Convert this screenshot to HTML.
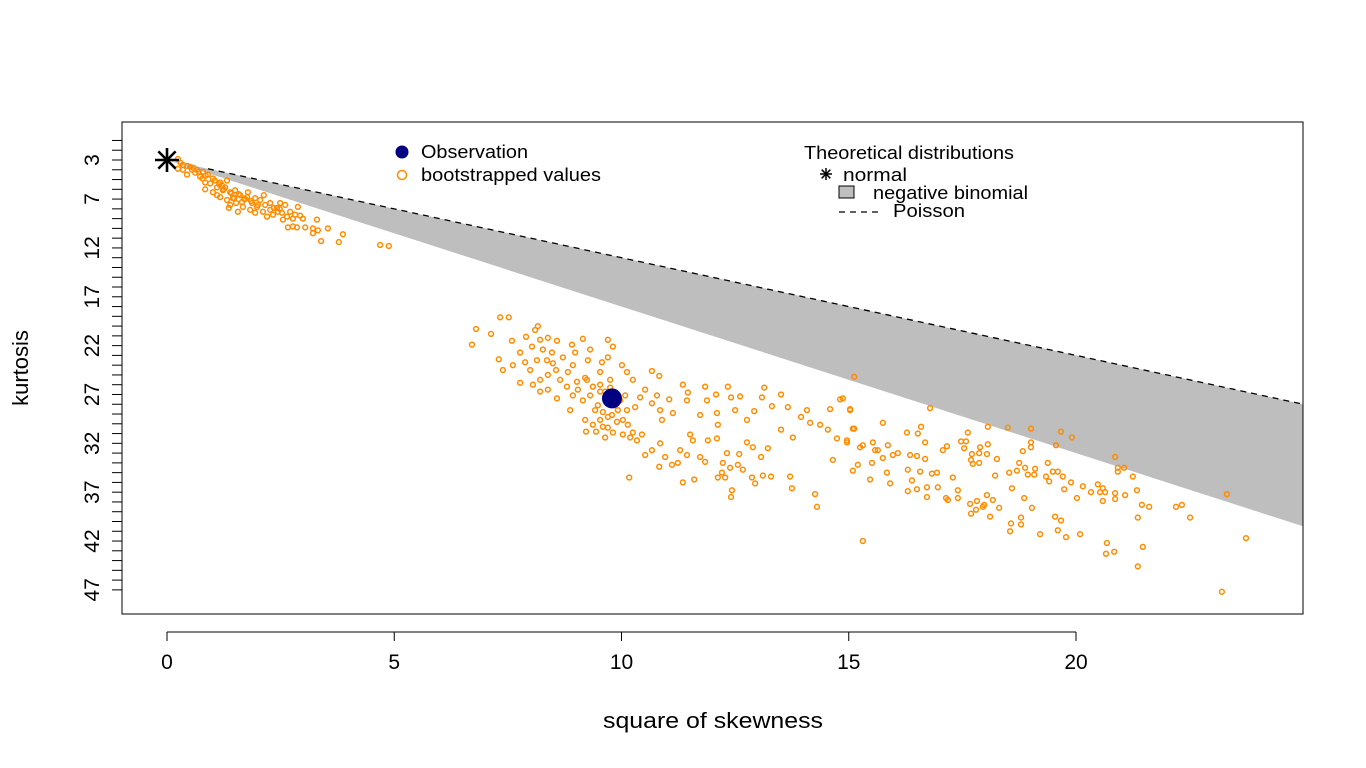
<!DOCTYPE html>
<html><head><meta charset="utf-8"><style>
html,body{margin:0;padding:0;background:#fff;}
svg{display:block;font-family:"Liberation Sans",Arial,sans-serif;}
</style></head><body>
<svg id="chart" width="1366" height="768" viewBox="0 0 1366 768" xmlns="http://www.w3.org/2000/svg"></svg>
<script>
const xTicks=[0,5,10,15,20];
const yLabels=[3,7,12,17,22,27,32,37,42,47];
const obsSkew2=[9.79];
const obsKurt=[27.4];
const bootSkew2=[0.24,0.35,0.51,0.66,0.79,0.90,0.73,1.01,1.17,1.32,1.10,0.84,1.01,1.23,1.39,1.17,1.32,1.45,1.61,1.76,1.78,1.65,1.36,1.52,1.67,1.87,1.98,2.05,2.13,2.27,1.94,2.11,2.20,2.33,2.42,2.49,2.53,2.64,2.55,2.71,2.77,2.88,2.93,2.99,2.77,2.66,2.86,3.04,3.21,3.30,3.32,3.21,3.54,3.39,3.87,3.78,4.69,4.88,0.35,0.24,0.62,0.95,1.21,1.50,1.72,1.94,2.16,2.27,2.44,2.60,2.82,1.83,1.56,1.39,1.10,0.84,0.44,
7.33,7.52,6.80,7.13,6.71,8.16,8.10,7.90,7.59,7.77,7.30,7.39,7.61,7.77,8.03,8.21,8.38,8.58,8.91,9.15,9.70,9.81,9.70,8.14,8.36,8.49,8.71,8.93,9.26,9.57,10.01,10.12,10.25,10.67,10.83,8.05,8.21,8.38,8.58,8.80,9.02,9.24,9.37,9.53,8.93,9.15,8.87,9.20,9.37,9.59,9.81,9.64,9.22,10.03,10.12,10.30,10.41,10.52,10.67,10.85,10.78,11.05,10.89,11.13,11.35,11.46,11.44,11.73,11.84,11.88,12.08,12.10,12.12,12.34,12.41,12.50,12.61,12.76,12.92,13.09,13.14,13.31,13.51,13.66,13.95,14.08,13.51,13.77,14.15,14.37,14.59,14.81,15.03,15.12,14.54,14.74,14.96,15.12,15.31,15.58,10.25,10.34,10.45,10.52,10.67,10.85,10.96,11.11,11.29,11.24,11.44,11.51,11.57,11.73,11.84,11.90,12.10,12.23,12.32,12.39,12.56,12.67,12.21,12.28,12.12,12.43,12.41,12.87,12.94,13.11,13.29,13.71,13.75,14.26,14.30,13.07,13.22,12.89,12.76,12.59,14.65,15.09,15.20,15.47,10.17,11.35,11.60,10.83,10.03,10.19,9.70,9.53,
9.53,9.64,9.75,9.86,9.97,9.48,9.59,9.79,9.92,10.08,9.31,9.42,9.20,9.04,8.82,8.65,8.56,8.38,8.21,7.99,7.88,8.27,8.47,8.98,9.31,9.53,9.75,9.90,9.70,9.44,10.14,
14.87,15.03,16.79,15.75,15.09,14.96,15.25,15.53,15.64,15.86,15.97,16.08,16.28,16.52,16.59,16.68,16.35,16.50,16.68,16.30,16.57,16.83,16.94,16.39,15.84,15.91,15.51,15.75,16.30,16.50,16.72,16.72,16.96,17.14,17.18,17.29,17.40,17.40,17.07,17.16,17.47,17.58,17.54,17.62,17.71,17.89,17.87,18.04,18.06,17.69,17.73,17.87,18.26,18.06,18.50,19.01,19.67,19.91,19.01,19.01,18.83,19.56,18.75,18.88,18.70,18.53,18.94,19.10,19.08,19.38,19.34,19.41,19.49,19.60,19.71,19.74,19.89,20.15,20.02,20.33,20.48,20.53,20.59,20.59,20.64,20.86,20.86,21.08,20.86,20.92,20.92,21.06,21.25,21.34,21.45,21.61,22.20,22.33,22.51,23.32,23.74,21.36,21.47,21.36,20.68,20.66,20.84,20.09,19.78,19.60,19.54,19.67,19.21,18.79,18.79,18.57,18.55,19.03,18.86,18.59,18.22,18.11,18.04,18.17,18.31,17.98,17.82,17.67,17.69,17.80,17.95,15.31,23.21,
0.30,0.45,0.58,0.70,0.85,1.05,1.15,1.28,1.42,1.58,1.70,1.85,2.00,2.35,2.48,0.55,0.78,1.25,1.48];
const bootKurt=[2.9,3.5,3.7,4.0,4.2,4.5,4.7,4.9,5.3,5.1,5.8,6.0,6.3,6.1,6.3,6.8,7.1,6.9,6.6,6.8,6.3,7.3,7.9,7.4,7.8,7.4,7.8,7.1,6.6,7.4,8.4,8.3,8.8,8.6,7.9,7.4,8.4,8.8,9.1,8.3,9.0,7.8,8.7,9.0,9.8,9.9,9.9,9.9,10.0,9.1,10.2,10.5,10.0,11.3,10.6,11.4,11.7,11.8,4.0,3.9,4.3,5.4,5.6,6.1,7.0,6.9,7.6,8.1,8.3,7.6,8.6,8.1,8.3,7.6,6.6,5.3,4.5,
19.1,19.1,20.3,20.8,21.9,20.0,20.4,21.1,21.5,22.7,23.4,24.5,24.0,25.8,22.1,21.4,21.2,21.5,21.9,21.3,21.4,22.1,23.2,23.5,23.5,23.8,23.2,24.0,23.5,23.7,24.0,24.7,25.5,24.6,25.1,26.0,26.7,26.5,27.4,26.2,25.7,25.5,26.2,26.7,27.1,27.6,28.6,29.6,30.1,30.3,30.9,31.4,30.8,29.6,28.6,28.3,27.3,26.5,27.9,28.6,27.1,27.5,29.6,28.9,26.0,26.8,27.6,29.1,26.2,27.6,27.0,28.9,30.1,26.2,27.3,28.6,27.2,29.6,28.7,27.3,26.3,28.2,27.0,28.3,29.3,28.6,30.6,31.4,29.9,30.1,28.5,27.5,28.5,25.2,30.6,31.5,31.7,30.5,32.2,32.7,30.9,31.7,31.1,33.2,32.7,32.0,33.4,34.2,32.7,34.0,33.2,31.1,31.7,33.4,33.9,31.7,31.5,34.0,33.0,34.5,34.2,34.7,35.0,35.5,35.5,36.8,37.5,35.5,36.1,35.3,35.4,35.4,36.6,37.2,38.5,33.4,32.5,32.4,31.9,33.1,33.7,34.8,34.2,35.7,35.5,36.0,35.7,34.4,31.1,31.4,29.3,29.6,
26.0,26.7,26.3,28.1,27.6,28.1,28.8,29.1,28.6,27.1,27.1,28.6,25.3,26.5,24.7,25.5,24.5,25.0,25.5,24.5,23.7,22.4,22.7,22.7,22.4,24.7,25.5,29.8,30.4,30.8,30.1,
27.4,28.6,28.4,29.9,30.5,31.9,32.4,31.9,32.7,32.2,33.2,33.0,30.9,31.0,30.3,31.9,33.2,33.3,33.6,34.7,34.9,35.1,35.0,35.8,35.0,36.1,34.0,33.5,36.9,36.7,36.5,37.5,36.5,37.6,37.8,35.5,36.8,37.6,32.7,32.3,31.8,31.8,32.5,30.9,33.1,32.4,33.0,33.1,32.1,33.7,34.1,34.0,33.6,30.3,30.4,30.5,30.8,31.4,31.9,32.4,32.8,32.2,34.0,34.5,34.8,35.0,35.2,34.6,35.2,34.0,35.4,35.9,34.9,34.9,35.4,36.7,36.0,36.4,37.6,37.0,36.2,37.0,36.6,37.9,37.0,37.1,37.7,37.3,33.4,34.5,34.9,34.5,35.4,36.8,38.3,38.5,38.5,38.3,39.6,37.2,41.7,39.6,42.6,44.6,42.2,43.3,43.1,41.3,41.6,40.9,39.5,39.9,41.3,39.6,40.3,40.2,41.0,38.6,37.6,36.6,35.3,39.5,37.3,37.8,38.6,38.3,37.9,38.2,39.2,38.8,38.5,42.0,47.2,
3.3,3.6,3.8,4.2,4.6,5.1,5.5,5.8,6.4,6.5,7.0,7.2,7.6,7.9,8.0,4.0,4.9,6.0,6.9];
const poissonSlope=[1];
const nbinomSlope=[1.5];

const NS="http://www.w3.org/2000/svg";
const svg=document.getElementById('chart');
const L=122,R=1303,T=122,B=614;
const xs=v=>167+v*45.45;
const ys=v=>160+(v-3)*9.77;
const xMax=(R-167)/45.45;
function mk(tag,attrs,parent){const e=document.createElementNS(NS,tag);for(const k in attrs)e.setAttribute(k,attrs[k]);(parent||svg).appendChild(e);return e;}
function star(cx,cy,r,w,parent){
  const g=mk('g',{stroke:'#000','stroke-width':w},parent);
  mk('line',{x1:cx-r,y1:cy,x2:cx+r,y2:cy},g);
  mk('line',{x1:cx,y1:cy-r,x2:cx,y2:cy+r},g);
  const d=r*0.72;
  mk('line',{x1:cx-d,y1:cy-d,x2:cx+d,y2:cy+d},g);
  mk('line',{x1:cx-d,y1:cy+d,x2:cx+d,y2:cy-d},g);
  return g;
}

const defs=mk('defs',{});
const cp=mk('clipPath',{id:'plotclip'},defs);
mk('rect',{x:L,y:T,width:R-L,height:B-T},cp);

const nb=mk('polygon',{points:`${xs(0)},${ys(3)} ${xs(xMax)},${ys(3+poissonSlope[0]*xMax)} ${xs(xMax)},${ys(3+nbinomSlope[0]*xMax)}`,fill:'#bebebe','clip-path':'url(#plotclip)'});


const pl=mk('line',{x1:xs(0.9),y1:ys(3+poissonSlope[0]*0.9),x2:xs(xMax),y2:ys(3+poissonSlope[0]*xMax),stroke:'#000','stroke-width':1.3,'stroke-dasharray':'6,5'});



const gp=mk('g',{fill:'none',stroke:'#FF8C00','stroke-width':1.5});


for(let i=0;i<bootSkew2.length;i++){
  const c=mk('circle',{cx:xs(bootSkew2[i]),cy:ys(bootKurt[i]),r:2.4},gp);
  
  
}
for(let i=0;i<obsSkew2.length;i++){
  const o=mk('circle',{cx:xs(obsSkew2[i]),cy:ys(obsKurt[i]),r:10,fill:'#000080'});
  
  
}
const st=star(xs(0),ys(3),12,2.6);



const bx=mk('rect',{x:L,y:T,width:R-L,height:B-T,fill:'none',stroke:'#000','stroke-width':1});



const xa=mk('g',{});


mk('line',{x1:xs(xTicks[0]),y1:632,x2:xs(xTicks[xTicks.length-1]),y2:632,stroke:'#000'},xa);
xTicks.forEach(t=>{
  mk('line',{x1:xs(t),y1:632,x2:xs(t),y2:641,stroke:'#000'},xa);
  const tx=mk('text',{x:xs(t),y:669,'font-size':21,'text-anchor':'middle'},xa);
  tx.textContent=t;
  
  
});
const xt=mk('text',{x:603,y:728,'font-size':22,textLength:220,lengthAdjust:'spacingAndGlyphs'});
xt.textContent='square of skewness';



const ya=mk('g',{});


for(let v=1;v<=47;v++){mk('line',{x1:112,y1:ys(v),x2:L,y2:ys(v),stroke:'#000'},ya);}
yLabels.forEach(t=>{
  const tx=mk('text',{x:0,y:0,'font-size':21,'text-anchor':'middle',transform:`translate(99,${ys(t)}) rotate(-90)`},ya);
  tx.textContent=t;
  
  
});
const yt=mk('text',{x:0,y:0,'font-size':22,'text-anchor':'middle',transform:'translate(28,368) rotate(-90)'});
yt.textContent='kurtosis';



const LA={'lengthAdjust':'spacingAndGlyphs'};
const lg=mk('g',{'font-size':18});


mk('circle',{cx:402,cy:152,r:6.5,fill:'#000080'},lg);
let t1=mk('text',{x:421,y:158,textLength:107,...LA},lg);t1.textContent='Observation';


mk('circle',{cx:402,cy:175,r:4.5,fill:'none',stroke:'#FF8C00','stroke-width':1.5},lg);
let t2=mk('text',{x:421,y:181,textLength:180,...LA},lg);t2.textContent='bootstrapped values';



const lg2=mk('g',{'font-size':18});


let h=mk('text',{x:804,y:159,textLength:210,...LA},lg2);h.textContent='Theoretical distributions';


star(826,174,6,1.5,lg2);
let n1=mk('text',{x:843,y:181,textLength:64,...LA},lg2);n1.textContent='normal';


mk('rect',{x:839,y:186,width:15,height:12,fill:'#bebebe',stroke:'#000','stroke-width':1},lg2);
let n2=mk('text',{x:873,y:199,textLength:155,...LA},lg2);n2.textContent='negative binomial';


mk('line',{x1:839,y1:212,x2:878,y2:212,stroke:'#000','stroke-width':1.3,'stroke-dasharray':'6,5'},lg2);
let n3=mk('text',{x:893,y:217,textLength:72,...LA},lg2);n3.textContent='Poisson';


</script>
</body></html>
